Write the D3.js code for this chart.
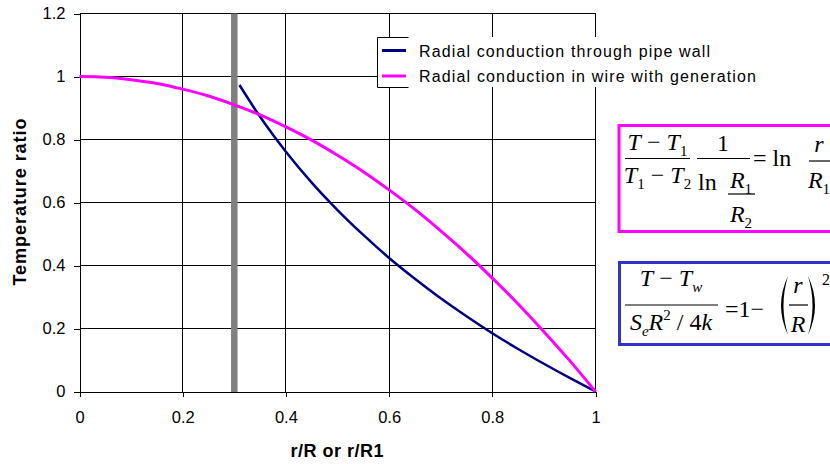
<!DOCTYPE html>
<html>
<head>
<meta charset="utf-8">
<script src="https://cdn.jsdelivr.net/npm/d3@7"></script>
<style>
  body { margin: 0; background: #fff; }
  svg { display: block; font-family: "Liberation Sans", Arial, sans-serif; }
  .eq { font-family: "Liberation Serif", "Times New Roman", serif; font-size: 24px; }
</style>
</head>
<body>
<div id="chart"></div>
<script>
// wire with internal generation (magenta)
const wireR = [0, 0.05, 0.1, 0.15, 0.2, 0.25, 0.3, 0.35, 0.4, 0.45, 0.5, 0.55, 0.6, 0.65, 0.7, 0.75, 0.8, 0.85, 0.9, 0.95, 1];
const wireT = [1, 0.998, 0.99, 0.978, 0.96, 0.938, 0.91, 0.878, 0.84, 0.798, 0.75, 0.698, 0.64, 0.578, 0.51, 0.438, 0.36, 0.278, 0.19, 0.098, 0];

// pipe wall (navy), starts at inner radius
const pipeR = [0.31, 0.35, 0.4, 0.45, 0.5, 0.55, 0.6, 0.65, 0.7, 0.75, 0.8, 0.85, 0.9, 0.95, 1];
const pipeT = [0.973, 0.872, 0.761, 0.663, 0.576, 0.497, 0.424, 0.358, 0.296, 0.239, 0.185, 0.135, 0.088, 0.043, 0];

const wallR = 0.3; // inner pipe wall marker
const xTicks = [0, 0.2, 0.4, 0.6, 0.8, 1];
const yTicks = [0, 0.2, 0.4, 0.6, 0.8, 1, 1.2];
const seriesNames = ["Radial conduction through pipe wall", "Radial conduction in wire with generation"];
const seriesColors = ["#000080", "#FF00FF"];

const width = 830, height = 464;

const svg = d3.select("#chart").append("svg")
  .attr("width", width)
  .attr("height", height);

const x = d3.scaleLinear().domain([0, 1]).range([79.5, 595.5]);
const y = d3.scaleLinear().domain([0, 1.2]).range([391.5, 13.5]);

const fmt = d => String(+d.toFixed(1));

// gridlines
const grid = svg.append("g").attr("stroke", "#000").attr("stroke-width", 1).attr("shape-rendering", "crispEdges");
grid.selectAll(".h").data(yTicks.filter(d => d > 0)).join("line")
  .attr("x1", x(0)).attr("x2", x(1))
  .attr("y1", d => y(d)).attr("y2", d => y(d));
grid.selectAll(".v").data(xTicks.filter(d => d > 0)).join("line")
  .attr("x1", d => x(d)).attr("x2", d => x(d))
  .attr("y1", y(0)).attr("y2", y(1.2));

// wall marker
svg.append("line")
  .attr("x1", x(wallR)).attr("x2", x(wallR))
  .attr("y1", y(1.2)).attr("y2", y(0) + 1)
  .attr("stroke", "#808080").attr("stroke-width", 6.5);

// axes
const yAxis = svg.append("g")
  .attr("transform", `translate(${x(0)},0)`)
  .call(d3.axisLeft(y).tickValues(yTicks).tickFormat(fmt).tickSize(6).tickSizeOuter(0).tickPadding(8));
const xAxis = svg.append("g")
  .attr("transform", `translate(0,${y(0)})`)
  .call(d3.axisBottom(x).tickValues(xTicks).tickFormat(fmt).tickSize(5).tickSizeOuter(0).tickPadding(15));
[xAxis, yAxis].forEach(a => {
  a.attr("font-family", null).attr("font-size", null);
  a.selectAll("text").attr("font-size", "16.5px").attr("fill", "#000");
  a.selectAll("line,path").attr("stroke", "#000").attr("shape-rendering", "crispEdges");
});

// series
const line = d3.line().curve(d3.curveMonotoneX).x(d => x(d[0])).y(d => y(d[1]));
svg.append("path")
  .datum(pipeR.map((r, i) => [r, pipeT[i]]))
  .attr("d", line).attr("fill", "none")
  .attr("stroke", seriesColors[0]).attr("stroke-width", 2.5).attr("stroke-linejoin", "round");
svg.append("path")
  .datum(wireR.map((r, i) => [r, wireT[i]]))
  .attr("d", line).attr("fill", "none")
  .attr("stroke", seriesColors[1]).attr("stroke-width", 3).attr("stroke-linejoin", "round");

// axis titles
svg.append("text")
  .attr("transform", "translate(25.5,202) rotate(-90)")
  .attr("text-anchor", "middle")
  .attr("font-weight", "bold").attr("font-size", "18px")
  .attr("textLength", 167).attr("lengthAdjust", "spacing")
  .text("Temperature ratio");
svg.append("text")
  .attr("x", 337).attr("y", 456.5)
  .attr("text-anchor", "middle")
  .attr("font-weight", "bold").attr("font-size", "18px")
  .attr("textLength", 93).attr("lengthAdjust", "spacing")
  .text("r/R or r/R1");

// legend (box clipped like the original)
const legend = svg.append("g");
legend.append("rect").attr("x", 377).attr("y", 37).attr("width", 385).attr("height", 50).attr("fill", "#fff");
legend.append("path").attr("d", "M408.5,37.5H377.5V87.5H408.5").attr("fill", "none").attr("stroke", "#000");
const legLens = [291, 337];
seriesNames.forEach((name, i) => {
  const yy = 50.5 + i * 25.5;
  legend.append("line").attr("x1", 382).attr("x2", 406).attr("y1", yy).attr("y2", yy)
    .attr("stroke", seriesColors[i]).attr("stroke-width", 3);
  legend.append("text").attr("x", 419).attr("y", yy + 6)
    .attr("font-size", "16px")
    .attr("textLength", legLens[i]).attr("lengthAdjust", "spacing")
    .text(name);
});

// equation boxes
svg.append("rect").attr("x", 619).attr("y", 125.5).attr("width", 220).attr("height", 106)
  .attr("fill", "#fff").attr("stroke", "#FF00FF").attr("stroke-width", 3);
svg.append("rect").attr("x", 619.5).attr("y", 262.5).attr("width", 220).attr("height", 82)
  .attr("fill", "#fff").attr("stroke", "#3333CC").attr("stroke-width", 3);

const eq = svg.append("g").attr("class", "eq").attr("fill", "#000");

// pieces: [text, italic, sub/sup]
function put(xx, yy, parts, anchor) {
  const t = eq.append("text").attr("x", xx).attr("y", yy).attr("text-anchor", anchor || "start");
  let shift = 0;
  parts.forEach(p => {
    const s = t.append("tspan").text(p[0]);
    if (p[1]) s.attr("font-style", "italic");
    const want = p[2] === "sub" ? 6 : p[2] === "sup" ? -10 : 0;
    if (want !== shift) { s.attr("dy", want - shift); shift = want; }
    if (p[2]) s.attr("font-size", "15px");
  });
  return t;
}
function bar(x1, x2, yy) {
  eq.append("line").attr("x1", x1).attr("x2", x2).attr("y1", yy).attr("y2", yy)
    .attr("stroke", "#000").attr("stroke-width", 1.2);
}

// pipe wall equation
put(657.5, 150, [["T", 1], [" \u2212 "], ["T", 1], ["1", 0, "sub"]], "middle");
bar(625, 690, 158.5);
put(657.5, 183, [["T", 1], ["1", 0, "sub"], [" \u2212 "], ["T", 1], ["2", 0, "sub"]], "middle");
put(723, 151, [["1"]], "middle");
bar(697, 750, 158.5);
put(698, 190, [["ln"]]);
put(741, 188, [["R", 1], ["1", 0, "sub"]], "middle");
bar(728, 755, 194);
put(741, 222, [["R", 1], ["2", 0, "sub"]], "middle");
put(753, 166, [["= ln"]]);
put(819, 152, [["r", 1]], "middle");
bar(809, 830, 161);
put(819, 188, [["R", 1], ["1", 0, "sub"]], "middle");

// wire equation
put(671, 286, [["T", 1], [" \u2212 "], ["T", 1], ["w", 1, "sub"]], "middle");
bar(625, 718, 305);
put(671, 330, [["S", 1], ["e", 1, "sub"], ["R", 1], ["2", 0, "sup"], [" / 4"], ["k", 1]], "middle");
put(725, 317, [["=1\u2212"]]);
eq.append("path").attr("d", "M788,276Q774,305.5 788,335Q779,305.5 788,276Z");
put(798, 293, [["r", 1]], "middle");
bar(789, 808, 305);
put(798, 332, [["R", 1]], "middle");
eq.append("path").attr("d", "M808,276Q822,305.5 808,335Q817,305.5 808,276Z");
put(822, 285, [["2"]]).attr("font-size", "16px");
</script>
</body>
</html>
